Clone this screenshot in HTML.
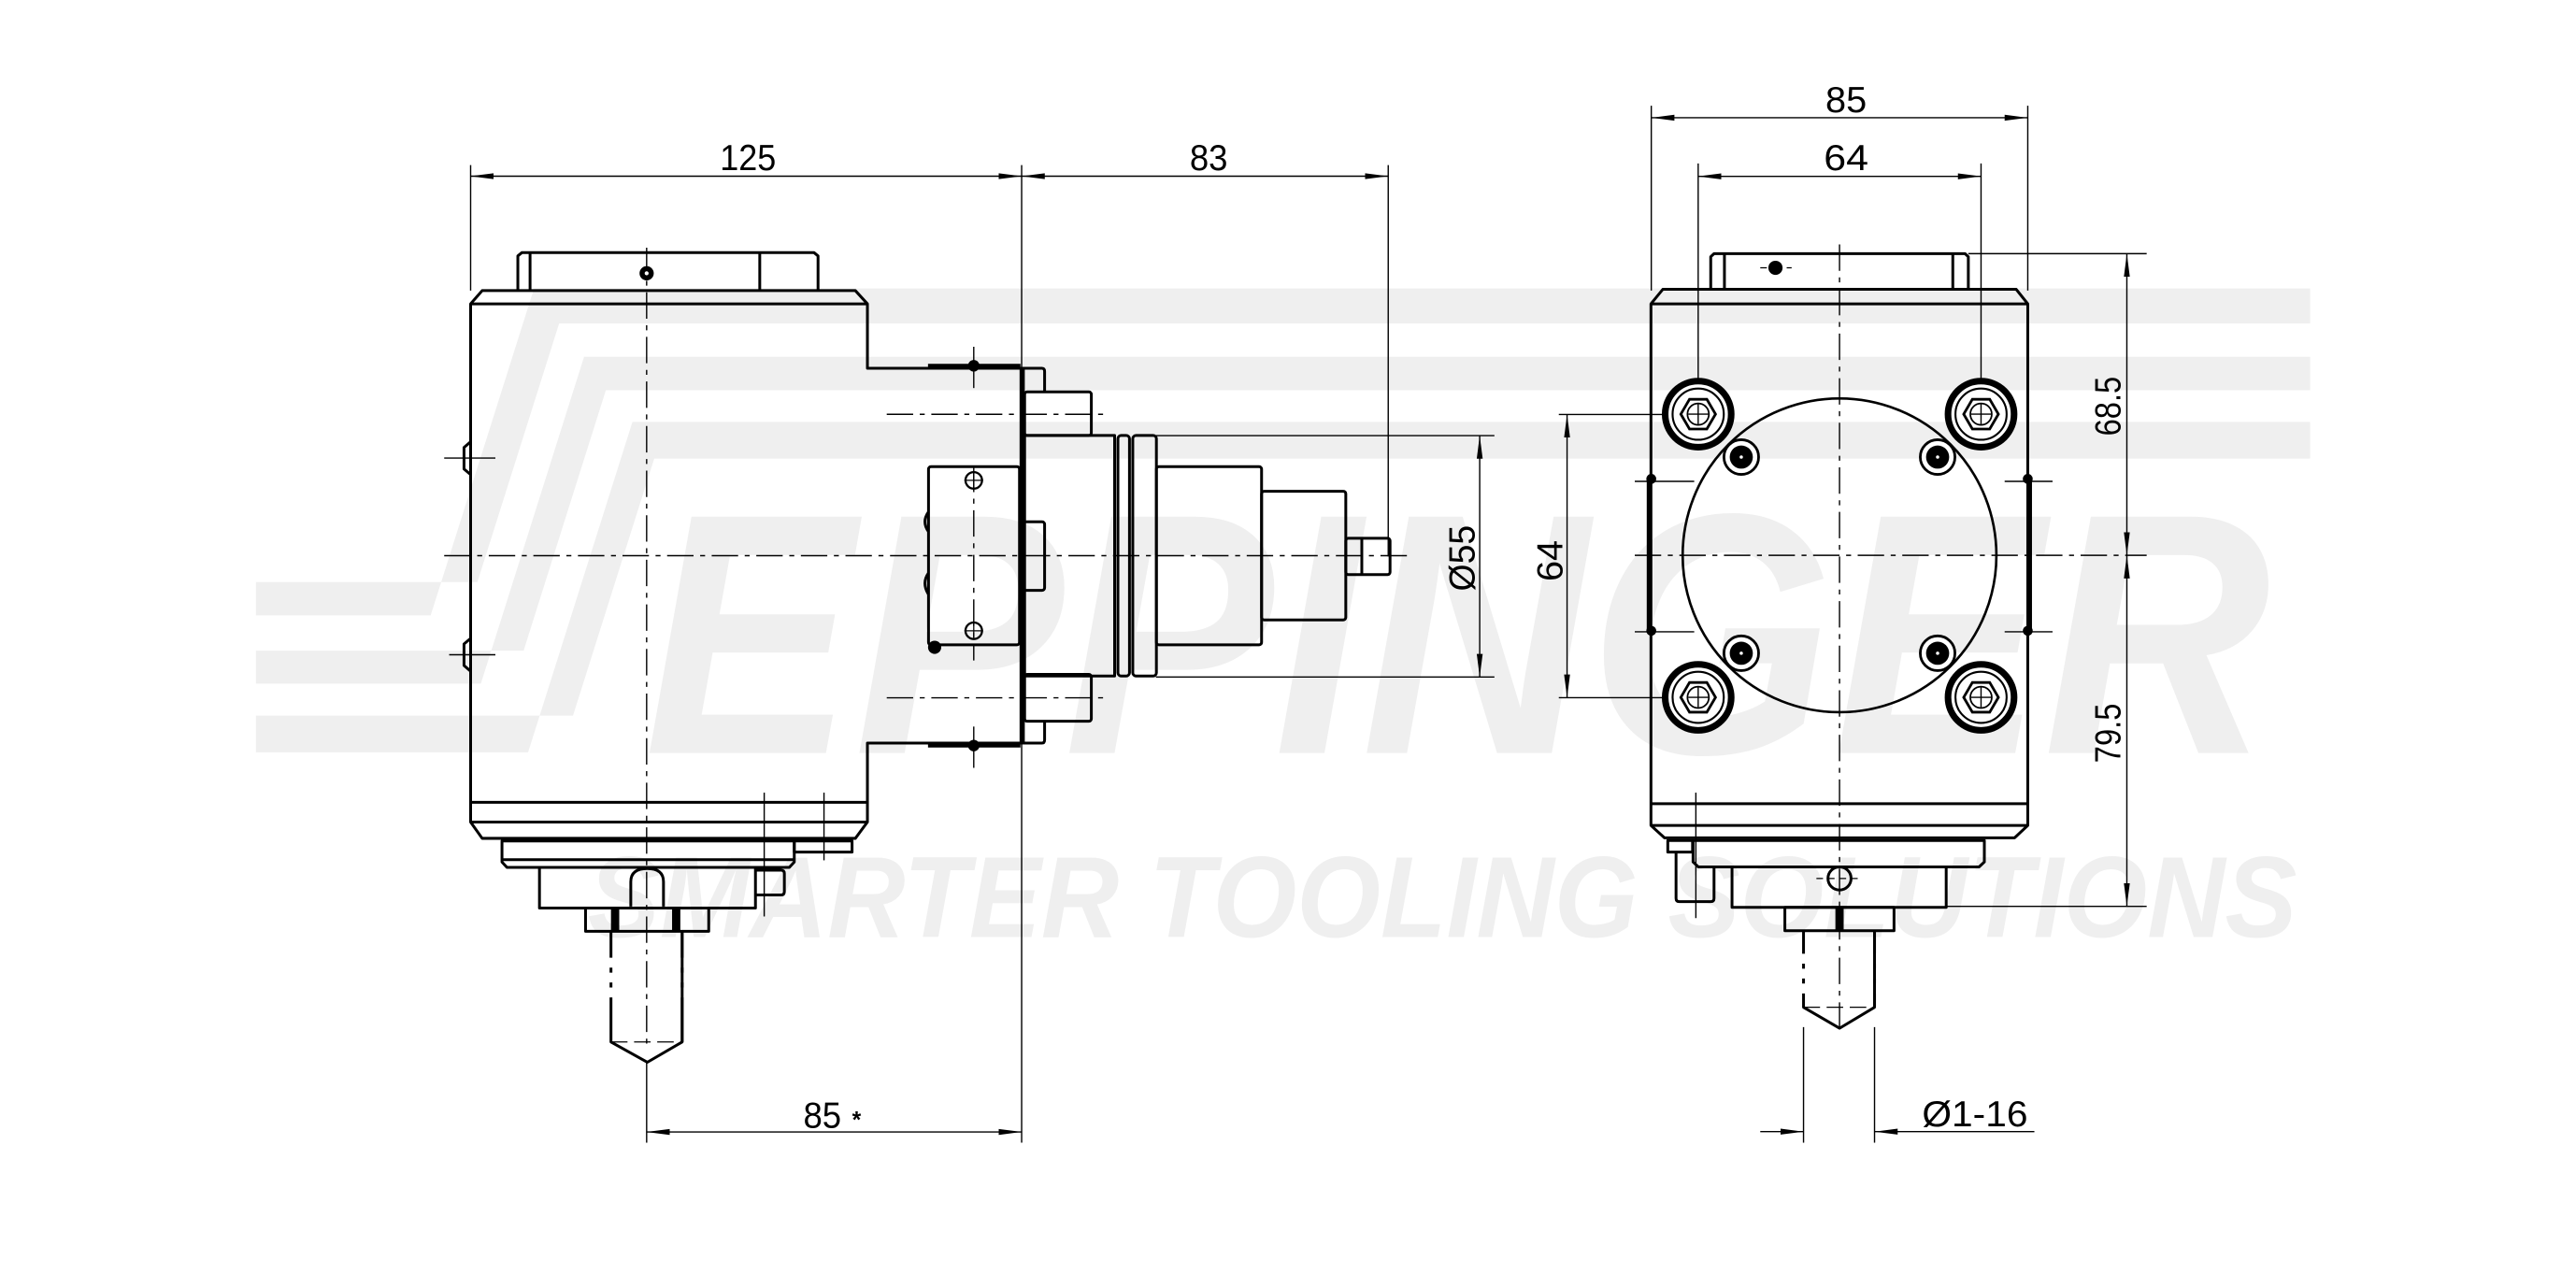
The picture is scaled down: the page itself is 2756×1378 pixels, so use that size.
<!DOCTYPE html>
<html><head><meta charset="utf-8"><style>
html,body{margin:0;padding:0;background:#fff;}
svg{display:block;}
text{font-family:"Liberation Sans",sans-serif;}
</style></head><body>
<svg width="2756" height="1378" viewBox="0 0 1560 780" preserveAspectRatio="none" xmlns="http://www.w3.org/2000/svg">
<defs>
<marker id="a" markerWidth="14" markerHeight="4" refX="14" refY="2" orient="auto-start-reverse" markerUnits="userSpaceOnUse"><path d="M0,0.2 L14,2 L0,3.8z" fill="#000"/></marker>
</defs>
<rect width="1560" height="780" fill="#fff"/>
<!-- watermark -->
<g fill="#efefef">
<polygon points="323.4,174.7 1399,174.7 1399,195.9 338.6,195.9 289.1,352.5 289.1,352.5 155,352.5 155,372.7 260.8,372.7"/>
<polygon points="353.7,216.1 1399,216.1 1399,236.3 366.9,236.3 317.1,394 155,394 155,414 291.2,414"/>
<polygon points="383,255.5 1399,255.5 1399,277.7 396.2,277.7 347,433.4 155,433.4 155,455.6 319.8,455.6"/>
<text x="390" y="456" font-size="208" font-weight="bold" font-style="italic" textLength="985" lengthAdjust="spacingAndGlyphs">EPPINGER</text>
<text x="356" y="567.5" font-size="70" font-weight="bold" font-style="italic" textLength="1035" lengthAdjust="spacingAndGlyphs">SMARTER TOOLING SOLUTIONS</text>
</g>

<!-- center lines -->
<g stroke="#000" stroke-width="0.8" fill="none" stroke-dasharray="16 4 3 4">
<line x1="269" y1="336.5" x2="852" y2="336.5"/>
<line x1="391.6" y1="150" x2="391.6" y2="635"/>
<line x1="537" y1="250.9" x2="670" y2="250.9"/>
<line x1="537" y1="422.6" x2="670" y2="422.6"/>
<line x1="990" y1="336.3" x2="1300" y2="336.3"/>
<line x1="1114" y1="148" x2="1114" y2="622"/>
<line x1="589.7" y1="282" x2="589.7" y2="400"/>
</g>

<!-- thin lines: extension & dimension -->
<g stroke="#000" stroke-width="0.8" fill="none">
<line x1="285" y1="100" x2="285" y2="176"/>
<line x1="618.7" y1="100" x2="618.7" y2="692"/>
<line x1="840.7" y1="100" x2="840.7" y2="337"/>
<line x1="285" y1="106.7" x2="618.7" y2="106.7" marker-start="url(#a)" marker-end="url(#a)"/>
<line x1="618.7" y1="106.7" x2="840.7" y2="106.7" marker-start="url(#a)" marker-end="url(#a)"/>
<line x1="391.6" y1="643" x2="391.6" y2="692"/>
<line x1="391.6" y1="685.5" x2="618.7" y2="685.5" marker-start="url(#a)" marker-end="url(#a)"/>
<line x1="700" y1="263.8" x2="905" y2="263.8"/>
<line x1="700" y1="410" x2="905" y2="410"/>
<line x1="896.1" y1="263.8" x2="896.1" y2="410" marker-start="url(#a)" marker-end="url(#a)"/>
<line x1="269" y1="277.4" x2="300" y2="277.4"/>
<line x1="272" y1="396.5" x2="300" y2="396.5"/>
<line x1="589.7" y1="210" x2="589.7" y2="235"/>
<line x1="589.7" y1="440" x2="589.7" y2="465"/>
<line x1="462.8" y1="480" x2="462.8" y2="555"/>
<line x1="499" y1="480" x2="499" y2="521"/>
<!-- right view -->
<line x1="1000" y1="64" x2="1000" y2="176"/>
<line x1="1228" y1="64" x2="1228" y2="176"/>
<line x1="1000" y1="71.3" x2="1228" y2="71.3" marker-start="url(#a)" marker-end="url(#a)"/>
<line x1="1028.4" y1="99" x2="1028.4" y2="262"/>
<line x1="1199.7" y1="99" x2="1199.7" y2="262"/>
<line x1="1028.4" y1="106.8" x2="1199.7" y2="106.8" marker-start="url(#a)" marker-end="url(#a)"/>
<line x1="1028.4" y1="410" x2="1028.4" y2="436"/>
<line x1="1199.7" y1="410" x2="1199.7" y2="436"/>
<line x1="1192" y1="153.6" x2="1300" y2="153.6"/>
<line x1="1178" y1="548.9" x2="1300" y2="548.9"/>
<line x1="1288" y1="153.6" x2="1288" y2="336.3" marker-start="url(#a)" marker-end="url(#a)"/>
<line x1="1288" y1="336.3" x2="1288" y2="548.9" marker-start="url(#a)" marker-end="url(#a)"/>
<line x1="944" y1="251" x2="1050" y2="251"/>
<line x1="944" y1="422.5" x2="1050" y2="422.5"/>
<line x1="949" y1="251" x2="949" y2="422.5" marker-start="url(#a)" marker-end="url(#a)"/>
<line x1="1180" y1="251" x2="1220" y2="251"/>
<line x1="1180" y1="422.5" x2="1220" y2="422.5"/>
<line x1="990" y1="291.5" x2="1026" y2="291.5"/>
<line x1="990" y1="382.6" x2="1026" y2="382.6"/>
<line x1="1214" y1="291.5" x2="1243" y2="291.5"/>
<line x1="1214" y1="382.6" x2="1243" y2="382.6"/>
<line x1="1027" y1="480" x2="1027" y2="556"/>
<line x1="1092.2" y1="622" x2="1092.2" y2="692"/>
<line x1="1135.2" y1="622" x2="1135.2" y2="692"/>
<line x1="1066" y1="685.3" x2="1092.2" y2="685.3" marker-end="url(#a)"/>
<line x1="1135.2" y1="685.3" x2="1232" y2="685.3" marker-start="url(#a)"/>
</g>

<!-- thick outlines left view -->
<g stroke="#000" stroke-width="1.7" fill="none" stroke-linejoin="round">
<path d="M313.6,176 V155 L316,153 H493 L495.4,155 V176"/>
<line x1="321" y1="153" x2="321" y2="176"/>
<line x1="460.1" y1="153" x2="460.1" y2="176"/>
<path d="M285,184 L292,176 H518 L525.3,184 V223 H618.3 V450 H525.3 V497.8 L518,507.7 H292 L285,497.8 Z"/>
<line x1="285" y1="184" x2="525.3" y2="184"/>
<line x1="285" y1="485.9" x2="525.3" y2="485.9"/>
<line x1="285" y1="497.8" x2="525.3" y2="497.8"/>
<path d="M285,267.5 L281,271 V284 L285,287.4"/>
<path d="M285,386.6 L281,390 V403 L285,406.5"/>
<line x1="562" y1="221.5" x2="618" y2="221.5" stroke-width="2.4"/>
<line x1="562" y1="451.5" x2="618" y2="451.5" stroke-width="2.4"/>
<path d="M618.3,223 H631 Q632.6,223 632.6,225 V237"/>
<path d="M618.3,450 H631 Q632.6,450 632.6,448 V437"/>
<line x1="619.4" y1="223" x2="619.4" y2="450" stroke-width="2.4"/>
<rect x="620.5" y="237.3" width="40.4" height="26.4" rx="1.5"/>
<rect x="620.5" y="408.4" width="40.4" height="28.4" rx="1.5"/>
<rect x="620.5" y="263.7" width="54.5" height="145.7"/>
<rect x="677" y="263.7" width="7" height="145.7" rx="2"/>
<rect x="686" y="263.7" width="14.3" height="145.7" rx="2"/>
<rect x="700.3" y="282.6" width="63.7" height="107.9" rx="1.5"/>
<rect x="764" y="297.5" width="51" height="77.9" rx="1.5"/>
<rect x="815" y="326" width="26.8" height="22" rx="1.5"/>
<line x1="824.7" y1="326" x2="824.7" y2="348"/>
<rect x="562.3" y="282.6" width="55.1" height="107.9" rx="1.5"/>
<path d="M562.3,310 Q558,316 562.3,322"/>
<path d="M562.3,347 Q558,353 562.3,360"/>
<rect x="618.3" y="316" width="14.3" height="41.5" rx="1.5"/>
<circle cx="589.7" cy="290.9" r="5" stroke-width="1.3"/>
<circle cx="589.7" cy="382" r="5" stroke-width="1.3"/>
<path d="M304,509.3 H481 V522 L478,525.3 H307 L304,522 Z"/>
<line x1="304" y1="520.6" x2="481" y2="520.6"/>
<rect x="481" y="509.3" width="35" height="6.7"/>
<rect x="326.7" y="525.3" width="130.8" height="24.6"/>
<path d="M457.5,527 H473 Q475,527 475,529 V540 Q475,542 473,542 H457.5"/>
<path d="M382,549 V534 Q382,526 392,526 Q401.8,526 401.8,534 V549"/>
<rect x="354.6" y="549.9" width="74.6" height="14.1"/>
<path d="M370,564 V631 L392,643.3 L413.1,631 V564" stroke-dasharray="16 6 3 6 3 6 200"/>
<path d="M413.1,564 V580 M413.1,586 V589 M413.1,595 V598 M413.1,604 V631" />
</g>
<g fill="#000">
<rect x="370" y="550" width="5" height="14"/>
<rect x="407" y="550" width="5" height="14"/>
<circle cx="391.6" cy="165.5" r="4.3"/>
<circle cx="589.7" cy="221.5" r="3.5"/>
<circle cx="589.7" cy="451.5" r="3.5"/>
<circle cx="566" cy="392" r="4"/>
</g>
<circle cx="391.6" cy="165.5" r="1.2" fill="#fff"/>
<g stroke="#000" stroke-width="0.7">
<line x1="584" y1="290.9" x2="595.4" y2="290.9"/><line x1="589.7" y1="285.5" x2="589.7" y2="296.3"/>
<line x1="584" y1="382" x2="595.4" y2="382"/><line x1="589.7" y1="376.6" x2="589.7" y2="387.4"/>
<line x1="370" y1="631" x2="413" y2="631" stroke-dasharray="10 4"/>
</g>

<!-- right view thick -->
<g stroke="#000" stroke-width="1.7" fill="none" stroke-linejoin="round">
<path d="M1036,175.2 V155.5 L1038,153.6 H1190 L1192,155.5 V175.2"/>
<line x1="1044.3" y1="153.6" x2="1044.3" y2="175.2"/>
<line x1="1182.6" y1="153.6" x2="1182.6" y2="175.2"/>
<path d="M999.8,184 L1007,175.2 H1221 L1228,184 V499.9 L1220,507.4 H1008 L999.8,499.9 Z"/>
<line x1="999.8" y1="184" x2="1228" y2="184"/>
<line x1="999.8" y1="486.7" x2="1228" y2="486.7"/>
<line x1="999.8" y1="499.9" x2="1228" y2="499.9"/>
<line x1="998.5" y1="290" x2="998.5" y2="382" stroke-width="2.5"/>
<line x1="1229.3" y1="290" x2="1229.3" y2="382" stroke-width="2.5"/>
<circle cx="1114" cy="336.3" r="95" stroke-width="1.5"/>
<path d="M1025.3,509 H1201.7 V522 L1198.5,525 H1028.5 L1025.3,522 Z"/>
<path d="M1048.9,525 V549.5 H1178.6 V525"/>
<rect x="1080.9" y="549.5" width="66.1" height="14.1"/>
<rect x="1010" y="509" width="15" height="7"/>
<path d="M1015,516 V544 Q1015,546 1017,546 H1036 Q1038,546 1038,544 V525"/>
<circle cx="1114" cy="532" r="7"/>
<path d="M1092.2,563.6 V610 L1114,622.7 L1135.2,610 V563.6" stroke-dasharray="14 6 3 6 3 6 200"/>
<path d="M1135.2,563.6 V577.6 M1135.2,583.6 V586.6 M1135.2,592.6 V595.6 M1135.2,601.6 V610"/>
</g>
<g fill="#000">
<circle cx="1000" cy="290" r="3"/><circle cx="1000" cy="382" r="3"/>
<circle cx="1228" cy="290" r="3"/><circle cx="1228" cy="382" r="3"/>
<circle cx="1075.2" cy="162.2" r="4.3"/>
<rect x="1111.5" y="549.5" width="5" height="14"/>
</g>
<g stroke="#000" stroke-width="0.7">
<line x1="1066" y1="162.2" x2="1085" y2="162.2" stroke-dasharray="4 4"/>
<line x1="1100" y1="532" x2="1128" y2="532" stroke-dasharray="4 3"/>
<line x1="1092.2" y1="610" x2="1135.2" y2="610" stroke-dasharray="10 4"/>
</g>

<!-- bolts -->
<g stroke="#000" fill="none">
<g transform="translate(1028.4,250.8)">
<circle r="20" stroke-width="4" fill="#fff"/><circle r="15.5" stroke-width="1.2"/>
<polygon points="10.5,0 5.25,-9 -5.25,-9 -10.5,0 -5.25,9 5.25,9" stroke-width="1.6"/>
<circle r="6.5" stroke-width="1"/><path d="M-6,0 H6 M0,-6 V6" stroke-width="0.8"/></g>
<g transform="translate(1199.7,250.8)">
<circle r="20" stroke-width="4" fill="#fff"/><circle r="15.5" stroke-width="1.2"/>
<polygon points="10.5,0 5.25,-9 -5.25,-9 -10.5,0 -5.25,9 5.25,9" stroke-width="1.6"/>
<circle r="6.5" stroke-width="1"/><path d="M-6,0 H6 M0,-6 V6" stroke-width="0.8"/></g>
<g transform="translate(1028.4,422.3)">
<circle r="20" stroke-width="4" fill="#fff"/><circle r="15.5" stroke-width="1.2"/>
<polygon points="10.5,0 5.25,-9 -5.25,-9 -10.5,0 -5.25,9 5.25,9" stroke-width="1.6"/>
<circle r="6.5" stroke-width="1"/><path d="M-6,0 H6 M0,-6 V6" stroke-width="0.8"/></g>
<g transform="translate(1199.7,422.3)">
<circle r="20" stroke-width="4" fill="#fff"/><circle r="15.5" stroke-width="1.2"/>
<polygon points="10.5,0 5.25,-9 -5.25,-9 -10.5,0 -5.25,9 5.25,9" stroke-width="1.6"/>
<circle r="6.5" stroke-width="1"/><path d="M-6,0 H6 M0,-6 V6" stroke-width="0.8"/></g>
<g transform="translate(1054.5,276.8)"><circle r="10.5" stroke-width="1.6" fill="#fff"/><circle r="7" fill="#000" stroke="none"/><circle r="1" fill="#fff" stroke="none"/></g>
<g transform="translate(1173.4,276.8)"><circle r="10.5" stroke-width="1.6" fill="#fff"/><circle r="7" fill="#000" stroke="none"/><circle r="1" fill="#fff" stroke="none"/></g>
<g transform="translate(1054.5,395.6)"><circle r="10.5" stroke-width="1.6" fill="#fff"/><circle r="7" fill="#000" stroke="none"/><circle r="1" fill="#fff" stroke="none"/></g>
<g transform="translate(1173.4,395.6)"><circle r="10.5" stroke-width="1.6" fill="#fff"/><circle r="7" fill="#000" stroke="none"/><circle r="1" fill="#fff" stroke="none"/></g>
</g>

<!-- dimension text -->
<g fill="#000" font-size="22">
<text x="453" y="103" text-anchor="middle" textLength="34" lengthAdjust="spacingAndGlyphs">125</text>
<text x="732" y="103" text-anchor="middle" textLength="23" lengthAdjust="spacingAndGlyphs">83</text>
<text x="498" y="683" text-anchor="middle" textLength="23" lengthAdjust="spacingAndGlyphs">85</text>
<text x="516" y="683" font-size="14" font-weight="bold">*</text>
<text transform="translate(893,338) rotate(-90)" text-anchor="middle" textLength="40" lengthAdjust="spacingAndGlyphs">Ø55</text>
<text x="1118" y="68" text-anchor="middle" textLength="25" lengthAdjust="spacingAndGlyphs">85</text>
<text x="1118" y="103" text-anchor="middle" textLength="27" lengthAdjust="spacingAndGlyphs">64</text>
<text transform="translate(946,339.6) rotate(-90)" text-anchor="middle" textLength="25" lengthAdjust="spacingAndGlyphs">64</text>
<text transform="translate(1284,246) rotate(-90)" text-anchor="middle" textLength="36" lengthAdjust="spacingAndGlyphs">68.5</text>
<text transform="translate(1284,444) rotate(-90)" text-anchor="middle" textLength="36" lengthAdjust="spacingAndGlyphs">79.5</text>
<text x="1164" y="682" textLength="64" lengthAdjust="spacingAndGlyphs">Ø1-16</text>
</g>
</svg>
</body></html>
